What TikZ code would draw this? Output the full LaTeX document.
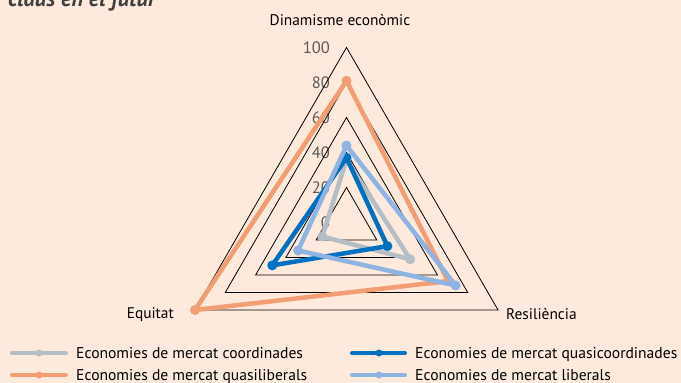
\documentclass[tikz,border=0pt]{standalone}
\usepackage{fontspec}
\setmainfont{PT Sans}
\definecolor{bgc}{RGB}{253,234,220}
\definecolor{sgrey}{RGB}{180,190,196}
\definecolor{sdblue}{RGB}{0,112,192}
\definecolor{sorange}{RGB}{243,157,116}
\definecolor{slblue}{RGB}{141,180,226}
\definecolor{ticktxt}{RGB}{90,90,90}
\definecolor{titletxt}{RGB}{64,64,64}
\tikzset{
  gridtri/.style={draw=black, line width=0.8pt, line join=miter},
  series/.style={line width=4.5pt, line join=round, line cap=round},
  dotmark/.style={circle, inner sep=0pt, minimum size=10pt},
  legline/.style={line width=4pt, line cap=round},
  legdot/.style={circle, inner sep=0pt, minimum size=7pt},
  axlab/.style={font=\fontsize{15.4}{17}\selectfont, text=black, inner sep=0pt},
  ticklab/.style={font=\fontsize{16.5}{18}\selectfont, text=ticktxt, inner sep=0pt, anchor=base east},
  legtxt/.style={font=\fontsize{15.6}{18}\selectfont, text=black, inner sep=0pt, anchor=base west},
  titletext/.style={font=\fontsize{22.5}{25}\selectfont\bfseries\itshape, text=titletxt, inner sep=0pt, anchor=base west}
}
\begin{document}
\begin{tikzpicture}[x=1pt,y=1pt]
\useasboundingbox (0,-383) rectangle (681,0);
\fill[bgc] (0,-383) rectangle (681,0);
\begin{scope}
  \clip (0,-383) rectangle (681,0);
  \node[titletext] (title) at (8,-6) {claus en el futur};
\end{scope}

% axis labels
\node[axlab, anchor=base] (dyn) at (340,-25) {Dinamisme econòmic};
\node[axlab, anchor=base east] (equ) at (174,-318.3) {Equitat};
\node[axlab, anchor=base west] (res) at (506,-319) {Resiliència};

% tick labels
\node[ticklab] (t100) at (330,-53.3) {100};
\node[ticklab] (t80) at (330,-88.3) {80};
\node[ticklab] (t60) at (330,-123.3) {60};
\node[ticklab] (t40) at (330,-158.3) {40};
\node[ticklab] (t20) at (330,-193.3) {20};
\node[ticklab] (t0) at (330,-228.3) {0};

\begin{scope}[shift={(346.5,-222.5)}]
  % grid
  \foreach \k in {20,40,60,80,100}{
    \draw[gridtri] (90:{1.75*\k}) -- (210:{1.75*\k}) -- (330:{1.75*\k}) -- cycle;
  }
  % data: coordinades (grey)
  \coordinate (g1) at (90:{1.75*36});
  \coordinate (g2) at (330:{1.75*42});
  \coordinate (g3) at (210:{1.75*16});
  \draw[series, sgrey] (g1) -- (g2) -- (g3) -- cycle;
  \foreach \p in {g1,g2,g3}{\node[dotmark, fill=sgrey] at (\p) {};}
  % quasicoordinades (dark blue)
  \coordinate (d1) at (90:{1.75*37});
  \coordinate (d2) at (330:{1.75*27});
  \coordinate (d3) at (210:{1.75*49});
  \draw[series, sdblue] (d1) -- (d2) -- (d3) -- cycle;
  \foreach \p in {d1,d2,d3}{\node[dotmark, fill=sdblue] at (\p) {};}
  % quasiliberals (orange)
  \coordinate (o1) at (90:{1.75*81});
  \coordinate (o2) at (330:{1.75*67});
  \coordinate (o3) at (210:{1.75*100});
  \draw[series, sorange] (o1) -- (o2) -- (o3) -- cycle;
  \foreach \p in {o1,o2,o3}{\node[dotmark, fill=sorange] at (\p) {};}
  % liberals (light blue)
  \coordinate (b1) at (90:{1.75*44});
  \coordinate (b2) at (330:{1.75*72});
  \coordinate (b3) at (210:{1.75*32});
  \draw[series, slblue] (b1) -- (b2) -- (b3) -- cycle;
  \foreach \p in {b1,b2,b3}{\node[dotmark, fill=slblue] at (\p) {};}
\end{scope}

% legend
\coordinate (la1) at (12,-353); \coordinate (lb1) at (66,-353);
\draw[legline, sgrey] (la1) -- (lb1);
\node[legdot, fill=sgrey] (ld1) at (39,-353) {};
\node[legtxt] (lt1) at (76,-358.3) {Economies de mercat coordinades};

\coordinate (la2) at (12,-375); \coordinate (lb2) at (66,-375);
\draw[legline, sorange] (la2) -- (lb2);
\node[legdot, fill=sorange] (ld2) at (39,-375) {};
\node[legtxt] (lt2) at (76,-380.3) {Economies de mercat quasiliberals};

\coordinate (la3) at (352,-353); \coordinate (lb3) at (405,-353);
\draw[legline, sdblue] (la3) -- (lb3);
\node[legdot, fill=sdblue] (ld3) at (379,-353) {};
\node[legtxt] (lt3) at (415,-358.3) {Economies de mercat quasicoordinades};

\coordinate (la4) at (352,-375); \coordinate (lb4) at (405,-375);
\draw[legline, slblue] (la4) -- (lb4);
\node[legdot, fill=slblue] (ld4) at (379,-375) {};
\node[legtxt] (lt4) at (415,-380.3) {Economies de mercat liberals};
\end{tikzpicture}
\end{document}
